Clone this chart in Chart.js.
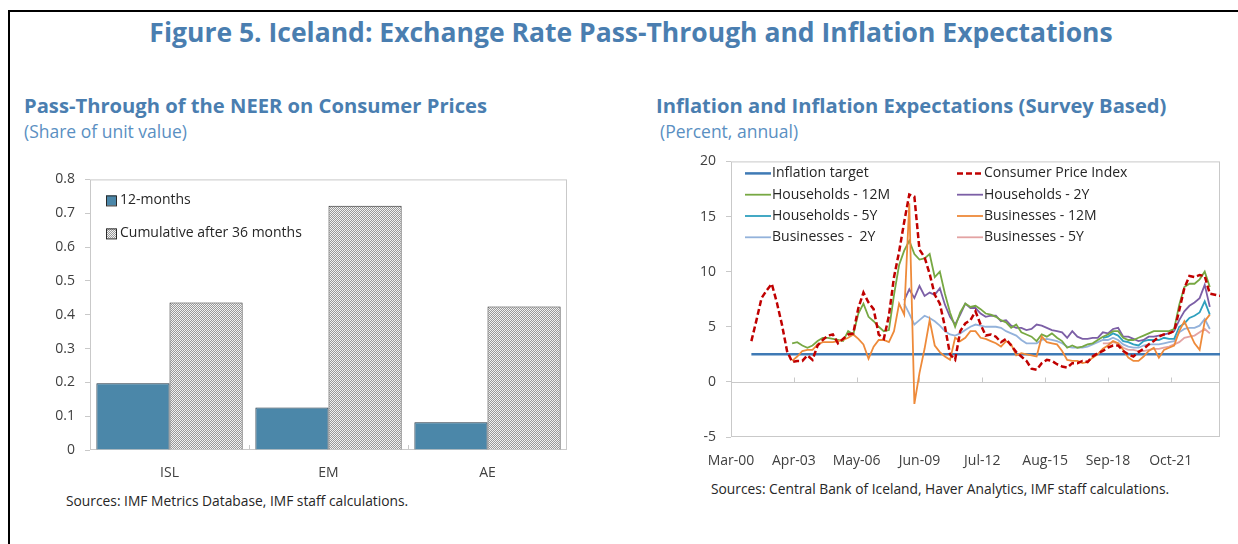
<!DOCTYPE html>
<html>
<head>
<meta charset="utf-8">
<script src="https://cdn.jsdelivr.net/npm/chart.js@4.4.1/dist/chart.umd.min.js"></script>
<style>
  body { margin: 0; width: 1238px; height: 544px; background: #fff; position: relative; overflow: hidden; font-family: 'Open Sans', sans-serif; }
  .frame { position: absolute; left: 8px; top: 10px; width: 1260px; height: 560px; border-top: 2px solid #000; border-left: 2px solid #000; }
  .txt { position: absolute; white-space: nowrap; line-height: 1; }
  #title { top: 19px; left: 0; width: 1262px; text-align: center; font-weight: 700; font-size: 26.5px; color: #4a7eb0; }
  .sub { font-weight: 700; font-size: 20.2px; color: #4a7eb0; top: 95px; }
  .unit { font-size: 17.5px; color: #5a8fc2; top: 123px; }
  .src { font-size: 13.8px; color: #262626; }
  canvas { position: absolute; }
</style>
</head>
<body>
<div class="frame"></div>
<div id="title" class="txt">Figure 5. Iceland: Exchange Rate Pass-Through and Inflation Expectations</div>
<div class="txt sub" style="left:24px">Pass-Through of the NEER on Consumer Prices</div>
<div class="txt unit" style="left:24px">(Share of unit value)</div>
<div class="txt sub" style="left:656px">Inflation and Inflation Expectations (Survey Based)</div>
<div class="txt unit" style="left:660px">(Percent, annual)</div>
<div class="txt src" style="left:66px; top:494px">Sources: IMF Metrics Database, IMF staff calculations.</div>
<div class="txt src" style="left:711px; top:482px">Sources: Central Bank of Iceland, Haver Analytics, IMF staff calculations.</div>

<canvas id="barChart" width="560" height="323" style="left:20px; top:161px"></canvas>
<canvas id="lineChart" width="575" height="329" style="left:660px; top:143px"></canvas>

<script>
// left panel
const barCategories = ['ISL', 'EM', 'AE'];
const twelveMonths = [0.197, 0.126, 0.082];
const cumulative36 = [0.436, 0.722, 0.424];

// right panel: months counted from Mar-00, quarterly observations
const monthTickLabels = ['Mar-00', 'Apr-03', 'May-06', 'Jun-09', 'Jul-12', 'Aug-15', 'Sep-18', 'Oct-21'];
const monthsPerTick = 37;
const lastMonth = 288;

const targetMonths = [12, 288];
const targetValues = [2.5, 2.5];

const cpiStart = 12;
const cpi = [
  3.7, 5.6, 7.6, 8.3, 8.9, 7.2, 5.2, 2.8, 1.8, 1.9,
  1.9, 2.4, 2.0, 3.3, 3.8, 4.2, 4.3, 3.5, 3.9, 4.3,
  4.4, 6.7, 8.1, 7.2, 6.6, 4.3, 3.9, 6.0, 9.5, 11.8,
  14.5, 17.0, 16.8, 12.0, 11.3, 9.8, 7.9, 7.1, 5.0, 2.5,
  2.0, 4.6, 5.3, 5.6, 6.4, 5.2, 4.2, 4.3, 4.1, 3.6,
  3.9, 3.3, 2.7, 2.3, 1.9, 1.2, 1.1, 1.7, 2.0, 1.9,
  1.6, 1.4, 1.3, 1.7, 1.7, 1.9, 1.8, 2.3, 2.6, 2.8,
  3.1, 3.3, 3.3, 2.8, 2.5, 2.3, 2.7, 3.0, 3.4, 3.7,
  4.1, 4.3, 4.4, 4.6, 6.5, 8.5, 9.6, 9.5, 9.7, 9.6,
  8.0, 7.9, 7.8
];

const hh12mStart = 36;
const hh12m = [
  3.5, 3.6, 3.3, 3.1, 3.3, 3.7, 4.0, 4.0, 3.9, 3.8,
  3.7, 4.6, 4.3, 6.2, 7.1, 5.9, 5.5, 5.0, 4.6, 4.7,
  7.9, 10.6, 11.9, 12.8, 11.6, 11.1, 11.2, 11.6, 9.5, 10.0,
  8.0, 6.3, 5.0, 6.3, 7.1, 6.8, 6.9, 6.6, 6.2, 6.1,
  5.9, 5.6, 5.4, 4.9, 5.2, 4.5, 4.3, 4.1, 3.7, 4.3,
  4.1, 4.4, 4.0, 3.7, 3.1, 3.3, 3.1, 3.2, 3.4, 3.5,
  3.8, 4.1, 4.3, 4.6, 4.6, 4.0, 3.8, 3.8, 4.0, 4.2,
  4.4, 4.6, 4.6, 4.6, 4.6, 4.8, 7.0, 8.6, 8.9, 8.9,
  9.3, 10.0, 8.6
];

const hh2yStart = 102;
const hh2y = [
  7.4, 8.4, 7.6, 8.7, 7.8, 8.1, 7.9, 8.5, 7.0, 5.9,
  5.2, 6.1, 7.1, 6.7, 6.7, 6.2, 5.9, 6.0, 6.0, 5.5,
  5.6, 5.1, 4.9, 4.9, 4.7, 4.8, 5.2, 5.1, 4.9, 4.7,
  4.6, 4.5, 4.0, 4.6, 4.1, 3.9, 3.9, 4.0, 4.0, 4.5,
  4.4, 4.8, 4.9, 4.1, 4.1, 3.9, 3.7, 3.8, 4.1, 4.1,
  4.2, 4.3, 4.4, 4.6, 5.6, 6.4, 6.9, 7.2, 7.6, 8.8,
  6.8
];

const hh5yStart = 219;
const hh5y = [
  4.0, 4.1, 4.4, 4.2, 3.7, 3.6, 3.4, 3.3, 3.7, 3.8,
  3.8, 3.8, 4.0, 3.9, 3.9, 5.0, 5.3, 5.8, 6.0, 6.3,
  7.3, 6.1
];

const bus12mStart = 36;
const bus12m = [
  1.9, 2.3, 2.8, 2.9, 2.9, 3.4, 3.6, 3.6, 3.6, 3.7,
  3.8, 4.0, 4.3, 3.9, 3.4, 2.1, 3.2, 3.8, 3.8, 3.6,
  4.6, 7.1, 6.1, 16.2, -2.0, 0.8, 3.0, 5.6, 3.3, 2.7,
  2.3, 2.0, 4.0, 3.7, 4.0, 4.6, 4.6, 4.0, 3.9, 3.7,
  3.5, 3.2, 3.7, 3.4, 2.4, 2.6, 2.5, 2.4, 2.3, 4.1,
  3.6, 3.5, 3.4, 2.8, 2.0, 1.9, 1.9, 1.7, 1.8, 2.2,
  2.5, 3.0, 3.3, 3.7, 3.5, 2.9, 2.2, 1.9, 1.9, 2.3,
  2.8, 3.1, 2.2, 2.9, 3.1, 3.3, 4.6, 5.5, 4.5, 3.5,
  2.9, 5.5, 6.1
];

const bus2yStart = 102;
const bus2y = [
  7.1, 6.2, 5.2, 5.6, 6.0, 5.8, 5.5, 5.1, 4.6, 4.3,
  4.2, 4.4, 4.7, 5.0, 5.2, 5.1, 5.0, 5.0, 5.0, 4.9,
  4.6, 4.4, 4.2, 3.8, 3.5, 3.5, 3.5, 3.8, 3.9, 3.8,
  3.7, 3.5, 3.2, 3.1, 3.1, 3.1, 3.2, 3.4, 3.6, 3.8,
  3.8, 4.0, 3.8, 3.4, 3.2, 3.1, 3.1, 3.3, 3.4, 3.4,
  3.4, 3.5, 3.6, 3.7, 4.5, 4.8, 4.9, 4.9, 5.1, 5.7,
  4.8
];

const bus5yStart = 219;
const bus5y = [
  3.5, 3.5, 3.6, 3.5, 3.1, 2.9, 2.9, 2.8, 2.8, 2.9,
  3.0, 3.0, 3.1, 3.2, 3.4, 3.6, 4.0, 4.1, 4.2, 4.5,
  4.8, 4.4
];

function quarterly(start, values) {
  return values.map((v, i) => ({ x: start + 3 * i, y: v }));
}

Chart.defaults.font.family = "'Open Sans', sans-serif";
Chart.defaults.font.size = 14;
Chart.defaults.color = '#404040';

// gray box around the plot area
const plotBox = {
  id: 'plotBox',
  beforeDatasetsDraw(chart) {
    const { ctx, chartArea: a } = chart;
    ctx.save();
    ctx.strokeStyle = '#c9c9c9';
    ctx.lineWidth = 1;
    ctx.strokeRect(a.left + 0.5, a.top + 0.5, a.width - 1, a.height - 1);
    ctx.restore();
  }
};

function makeDots() {
  const c = document.createElement('canvas');
  c.width = 2; c.height = 2;
  const g = c.getContext('2d');
  g.fillStyle = '#f2f2f2';
  g.fillRect(0, 0, 2, 2);
  g.fillStyle = '#999999';
  g.fillRect(0, 0, 1, 1);
  g.fillRect(1, 1, 1, 1);
  return g.createPattern(c, 'repeat');
}
const dots = makeDots();

// ---------- bar chart ----------
const barLegend = {
  id: 'barLegend',
  afterDatasetsDraw(chart) {
    const { ctx, chartArea: a } = chart;
    ctx.save();
    chart.data.datasets.forEach((ds, i) => {
      const x = a.left + 16;
      const y = a.top + 21 + i * 33;
      ctx.fillStyle = ds.backgroundColor;
      ctx.fillRect(x, y - 5, 10, 10);
      ctx.strokeStyle = '#2a2a2a';
      ctx.lineWidth = 1;
      ctx.strokeRect(x + 0.5, y - 4.5, 10, 10);
      ctx.fillStyle = '#262626';
      ctx.font = "14px 'Open Sans'";
      ctx.textBaseline = 'middle';
      ctx.fillText(ds.label, x + 14, y);
    });
    // small marks between categories on the base line
    const xs = chart.scales.x;
    ctx.strokeStyle = '#c9c9c9';
    for (let i = 1; i < barCategories.length; i++) {
      const px = Math.round((xs.getPixelForTick(i - 1) + xs.getPixelForTick(i)) / 2) + 0.5;
      ctx.beginPath();
      ctx.moveTo(px, a.bottom);
      ctx.lineTo(px, a.bottom - 5);
      ctx.stroke();
    }
    ctx.restore();
  }
};

new Chart(document.getElementById('barChart'), {
  type: 'bar',
  data: {
    labels: barCategories,
    datasets: [
      { label: '12-months', data: twelveMonths, backgroundColor: '#4b87a9', borderColor: '#1e3140', borderWidth: 1 },
      { label: 'Cumulative after 36 months', data: cumulative36, backgroundColor: dots, borderColor: '#2a2a2a', borderWidth: 1 }
    ]
  },
  options: {
    responsive: false,
    animation: false,
    devicePixelRatio: 1,
    layout: { padding: { top: 3, right: 13, left: 0, bottom: 0 } },
    datasets: { bar: { categoryPercentage: 0.92, barPercentage: 1 } },
    plugins: { legend: { display: false }, tooltip: { enabled: false } },
    scales: {
      x: {
        grid: { display: false },
        border: { display: false },
        ticks: { padding: 7, color: '#404040' },
        afterFit(s) { s.height = 34; }
      },
      y: {
        min: 0, max: 0.8,
        ticks: { stepSize: 0.1, padding: 10, callback: v => v === 0 ? '0' : v.toFixed(1) },
        grid: { drawOnChartArea: false, tickLength: 5, color: '#c9c9c9' },
        border: { display: false },
        afterFit(s) { s.width = 70; }
      }
    }
  },
  plugins: [plotBox, barLegend]
});

// ---------- line chart ----------
const legendSlots = [
  [0, 0], [1, 0],
  [0, 1], [1, 1],
  [0, 2], [1, 2],
  [0, 3], [1, 3]
];

const lineLegend = {
  id: 'lineLegend',
  beforeDatasetsDraw(chart) {
    const { ctx, chartArea: a } = chart;
    const ys = chart.scales.y, xs = chart.scales.x;
    ctx.save();
    // zero line and its tick marks
    const y0 = Math.round(ys.getPixelForValue(0)) + 0.5;
    ctx.strokeStyle = '#c9c9c9';
    ctx.lineWidth = 1;
    ctx.beginPath();
    ctx.moveTo(a.left, y0);
    ctx.lineTo(a.right, y0);
    for (let i = 1; i < monthTickLabels.length; i++) {
      const px = Math.round(xs.getPixelForValue(i * monthsPerTick)) + 0.5;
      ctx.moveTo(px, y0);
      ctx.lineTo(px, y0 - 5);
    }
    ctx.stroke();
    ctx.restore();
  },
  afterDatasetsDraw(chart) {
    const { ctx, chartArea: a } = chart;
    ctx.save();
    ctx.font = "14px 'Open Sans'";
    ctx.textBaseline = 'middle';
    chart.data.datasets.forEach((ds, i) => {
      const [col, row] = legendSlots[i];
      const x = a.left + (col === 0 ? 14 : 226);
      const y = a.top + 12 + row * 21.3;
      ctx.strokeStyle = ds.borderColor;
      ctx.lineWidth = ds.borderWidth;
      ctx.setLineDash(ds.borderDash || []);
      ctx.beginPath();
      ctx.moveTo(x, y);
      ctx.lineTo(x + 26, y);
      ctx.stroke();
      ctx.setLineDash([]);
      ctx.fillStyle = '#262626';
      ctx.fillText(ds.label, x + 27, y);
    });
    ctx.restore();
  }
};

function lineSet(label, data, color, width, order, dash) {
  return {
    label, data, order,
    borderColor: color,
    borderWidth: width,
    borderDash: dash,
    pointRadius: 0,
    fill: false,
    tension: 0
  };
}

new Chart(document.getElementById('lineChart'), {
  type: 'line',
  data: {
    datasets: [
      lineSet('Inflation target', targetMonths.map((m, i) => ({ x: m, y: targetValues[i] })), '#3f7ab5', 2.5, 8),
      lineSet('Consumer Price Index', quarterly(cpiStart, cpi), '#c00000', 2.5, 0, [6, 3]),
      lineSet('Households - 12M', quarterly(hh12mStart, hh12m), '#77a843', 1.8, 3),
      lineSet('Households - 2Y', quarterly(hh2yStart, hh2y), '#7c5fa6', 1.8, 4),
      lineSet('Households - 5Y', quarterly(hh5yStart, hh5y), '#2fa0be', 1.8, 5),
      lineSet('Businesses - 12M', quarterly(bus12mStart, bus12m), '#ee8a3a', 1.8, 2),
      lineSet('Businesses -  2Y', quarterly(bus2yStart, bus2y), '#93b2db', 1.8, 6),
      lineSet('Businesses - 5Y', quarterly(bus5yStart, bus5y), '#e3a3a3', 1.8, 7)
    ]
  },
  options: {
    responsive: false,
    animation: false,
    devicePixelRatio: 1,
    layout: { padding: { top: 3, right: 15, left: 0, bottom: 0 } },
    plugins: { legend: { display: false }, tooltip: { enabled: false } },
    scales: {
      x: {
        type: 'linear',
        min: 0, max: lastMonth,
        grid: { display: false },
        border: { display: false },
        ticks: {
          stepSize: monthsPerTick,
          autoSkip: false,
          maxRotation: 0,
          padding: 8,
          callback: v => Number.isInteger(v / monthsPerTick) ? (monthTickLabels[v / monthsPerTick] || '') : ''
        },
        afterFit(s) { s.height = 35; }
      },
      y: {
        min: -5, max: 20,
        ticks: { stepSize: 5, padding: 10 },
        grid: { drawOnChartArea: false, tickLength: 5, color: '#c9c9c9' },
        border: { display: false },
        afterFit(s) { s.width = 71; }
      }
    }
  },
  plugins: [plotBox, lineLegend]
});
</script>
</body>
</html>
